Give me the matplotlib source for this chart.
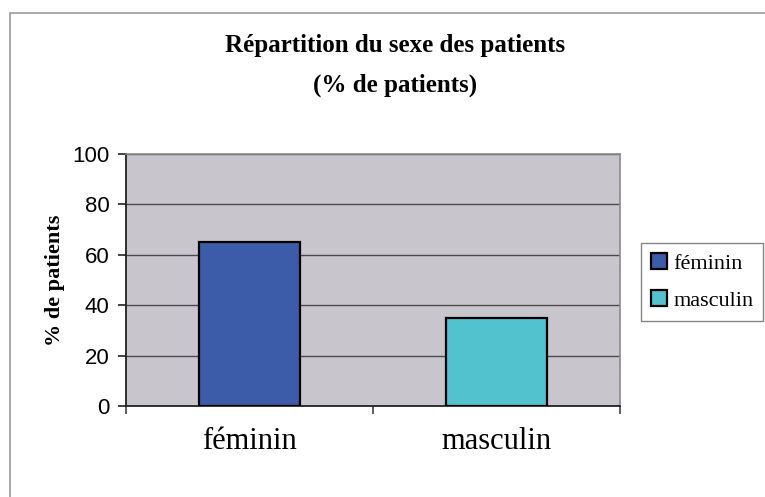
import matplotlib
matplotlib.use("Agg")
import matplotlib.pyplot as plt
from matplotlib.patches import Rectangle

categories = ["féminin", "masculin"]
values = [65, 35]
colors = ["#3C5BA9", "#52C2CF"]
yticks = [0, 20, 40, 60, 80, 100]

fig = plt.figure(figsize=(7.65, 4.97), dpi=100)
fig.patch.set_facecolor("white")

# outer chart border
fig.add_artist(Rectangle((10/765, -0.05), 1.2, 1 - 13/497 + 0.05, transform=fig.transFigure,
                         fill=False, edgecolor="#9a9a9a", linewidth=1.2))

ax = fig.add_axes([126/765, 1 - 406/497, (620 - 126)/765, (406 - 154)/497])
ax.set_facecolor("#C9C5CC")

x = list(range(len(categories)))
bars = ax.bar(x, values, width=0.41, color=colors, edgecolor="black", linewidth=1.6, zorder=3,
              label=categories)

ax.set_xlim(-0.5, len(categories) - 0.5)
ax.set_ylim(0, 100)
ax.set_yticks(yticks)
ax.set_yticklabels([str(t) for t in yticks], fontfamily="Liberation Sans", fontsize=16)
ax.yaxis.grid(True, color="#4a4a4a", linewidth=1.0, zorder=1)
ax.set_axisbelow(True)

ax.set_xticks(x)
ax.set_xticklabels(categories, fontfamily="Liberation Serif", fontsize=22)
ax.set_xticks([-0.5 + i for i in range(len(categories) + 1)], minor=True)
ax.tick_params(axis="x", which="major", length=0, pad=15)
ax.tick_params(axis="x", which="minor", length=6, width=1.2, color="#444444", direction="out")
ax.tick_params(axis="y", length=6, width=1.2, color="#222222", direction="out", pad=6)

for s in ["top", "right"]:
    ax.spines[s].set_color("#8a8a8a")
    ax.spines[s].set_linewidth(1.2)
for s in ["left", "bottom"]:
    ax.spines[s].set_color("#222222")
    ax.spines[s].set_linewidth(1.3)

ax.set_ylabel("% de patients", fontfamily="Liberation Serif", fontsize=16, fontweight="bold",
              labelpad=5)

fig.text(395/765, 1 - 46/497, "Répartition du sexe des patients", ha="center", va="center",
         fontfamily="Liberation Serif", fontsize=18, fontweight="bold")
fig.text(395/765, 1 - 85/497, "(% de patients)", ha="center", va="center",
         fontfamily="Liberation Serif", fontsize=18, fontweight="bold")

leg = fig.legend(handles=bars, labels=categories, loc="upper left",
                 bbox_to_anchor=(641/765, 1 - 243/497), frameon=True, fancybox=False,
                 prop={"family": "Liberation Serif", "size": 16},
                 handlelength=0.7, handleheight=0.7, handletextpad=0.3, labelspacing=0.75,
                 borderpad=0.45, borderaxespad=0)
leg.get_frame().set_edgecolor("#666666")
leg.get_frame().set_linewidth(1.0)

fig.savefig("out.png", dpi=100)
